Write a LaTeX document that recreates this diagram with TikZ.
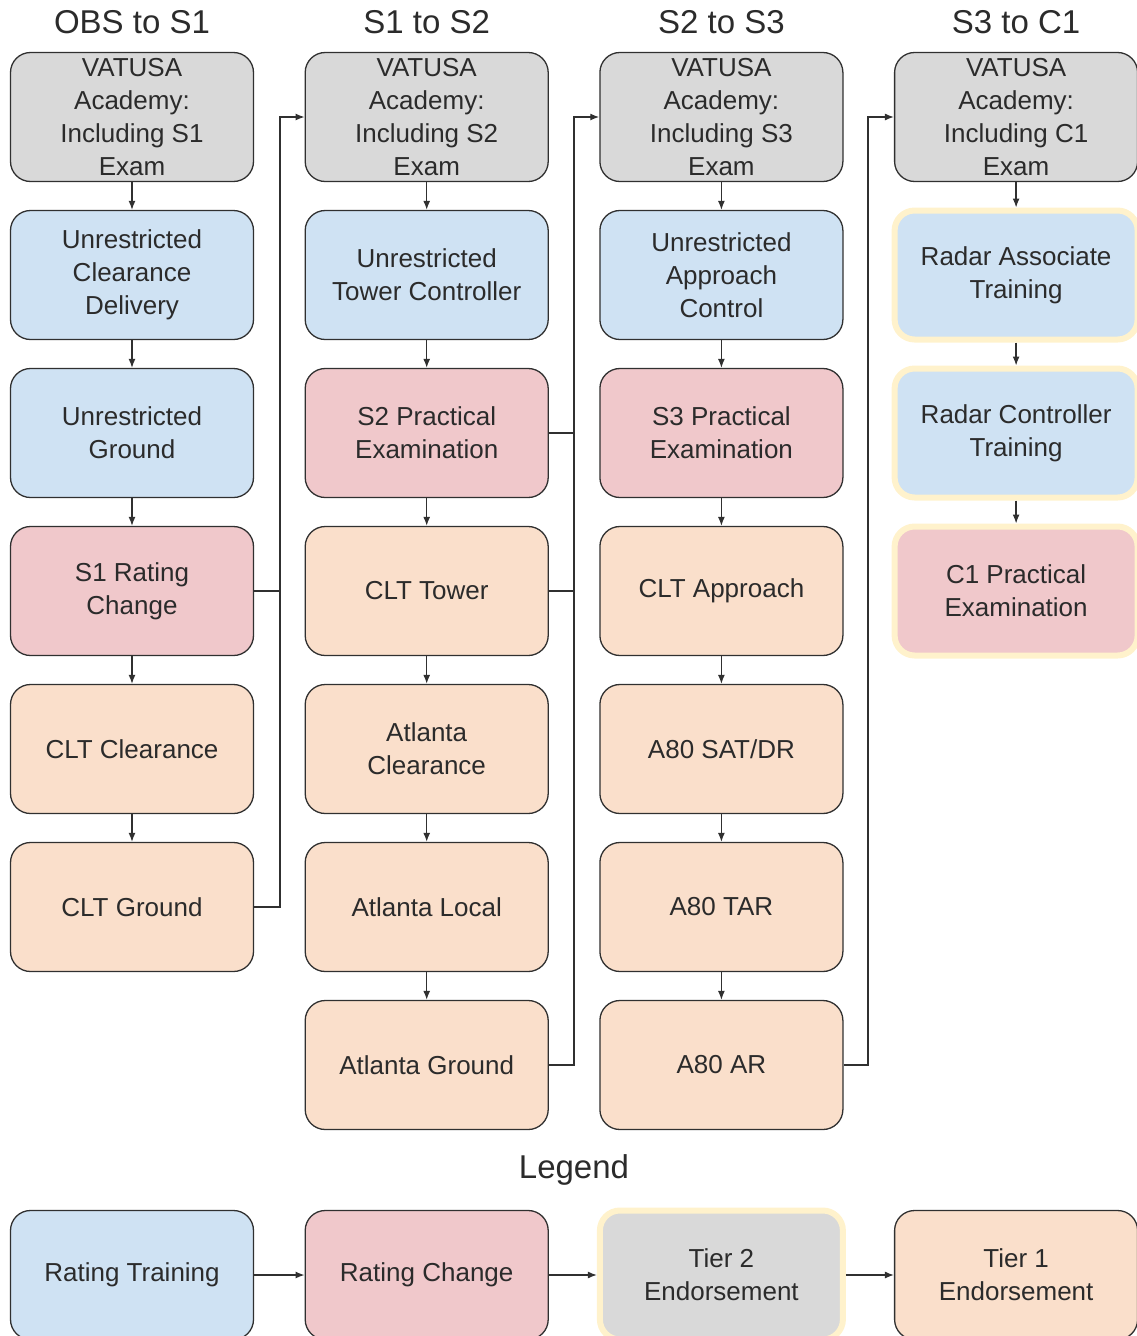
\documentclass[tikz,border=0pt]{standalone}
\usepackage{fontspec}
\setmainfont{Liberation Sans}
\usetikzlibrary{arrows.meta}

\definecolor{cgray}{HTML}{D9D9D9}
\definecolor{cblue}{HTML}{CFE2F3}
\definecolor{cred}{HTML}{F0C8CB}
\definecolor{corange}{HTML}{FADFCB}
\definecolor{cyellow}{HTML}{FFF2CC}
\definecolor{cline}{HTML}{303030}
\definecolor{ctext}{HTML}{2B2B2B}

\tikzset{
  box/.style={draw=cline, line width=1.3pt, rounded corners=20pt,
    minimum width=243pt, minimum height=129pt, inner sep=0pt,
    align=center, text=ctext, font=\fontsize{26}{33}\selectfont},
  hl/.style={draw=cyellow, line width=6pt},
  title/.style={text=ctext, font=\fontsize{33}{40}\selectfont},
}

\begin{document}
\begin{tikzpicture}[x=1pt,y=-1pt,line width=1.3pt,color=cline,
  >={Latex[length=9pt,width=7pt]}]

  \newcommand\X{294.7};
  \newcommand\Y{158};

  \useasboundingbox (0,0) rectangle (1136,1336);

  \node[title] (t1) at (132,22) {OBS to S1};
  \node[title] (t2) at (132+\X,22) {S1 to S2};
  \node[title] (t3) at (132+2*\X,22) {S2 to S3};
  \node[title] (t4) at (132+3*\X,22) {S3 to C1};

  %% OBS to S1
  \node[box,fill=cgray] (v1) at (132,117) {VATUSA\\Academy:\\Including S1\\Exam};
  \node[box,fill=cblue] (del1) at (132,117+\Y) {Unrestricted\\Clearance\\Delivery};
  \node[box,fill=cblue] (gnd1) at (132,117+2*\Y) {Unrestricted\\Ground};
  \node[box,fill=cred] (rc1) at (132,117+3*\Y) {S1 Rating\\Change};
  \node[box,fill=corange] (clr1) at (132,117+4*\Y) {CLT Clearance};
  \node[box,fill=corange] (cltg1) at (132,117+5*\Y) {CLT Ground};

  %% S1 to S2
  \node[box,fill=cgray] (v2) at (132+\X,117) {VATUSA\\Academy:\\Including S2\\Exam};
  \node[box,fill=cblue] (twr2) at (132+\X,117+\Y) {Unrestricted\\Tower Controller};
  \node[box,fill=cred] (ex2) at (132+\X,117+2*\Y) {S2 Practical\\Examination};
  \node[box,fill=corange] (cltt2) at (132+\X,117+3*\Y) {CLT Tower};
  \node[box,fill=corange] (atlc2) at (132+\X,117+4*\Y) {Atlanta\\Clearance};
  \node[box,fill=corange] (atll2) at (132+\X,117+5*\Y) {Atlanta Local};
  \node[box,fill=corange] (atlg2) at (132+\X,117+6*\Y) {Atlanta Ground};

  %% S2 to S3
  \node[box,fill=cgray] (v3) at (132+2*\X,117) {VATUSA\\Academy:\\Including S3\\Exam};
  \node[box,fill=cblue] (app3) at (132+2*\X,117+\Y) {Unrestricted\\Approach\\Control};
  \node[box,fill=cred] (ex3) at (132+2*\X,117+2*\Y) {S3 Practical\\Examination};
  \node[box,fill=corange] (clta3) at (132+2*\X,117+3*\Y) {CLT Approach};
  \node[box,fill=corange] (sat3) at (132+2*\X,117+4*\Y) {A80 SAT/DR};
  \node[box,fill=corange] (tar3) at (132+2*\X,117+5*\Y) {A80 TAR};
  \node[box,fill=corange] (ar3) at (132+2*\X,117+6*\Y) {A80 AR};

  %% S3 to C1
  \node[box,fill=cgray] (v4) at (132+3*\X,117) {VATUSA\\Academy:\\Including C1\\Exam};
  \node[box,hl,fill=cblue] (ra4) at (132+3*\X,117+\Y) {Radar Associate\\Training};
  \node[box,hl,fill=cblue] (rct4) at (132+3*\X,117+2*\Y) {Radar Controller\\Training};
  \node[box,hl,fill=cred] (ex4) at (132+3*\X,117+3*\Y) {C1 Practical\\Examination};

  \foreach \a/\b in {v1/del1,del1/gnd1,gnd1/rc1,rc1/clr1,clr1/cltg1,
    v2/twr2,twr2/ex2,ex2/cltt2,cltt2/atlc2,atlc2/atll2,atll2/atlg2,
    v3/app3,app3/ex3,ex3/clta3,clta3/sat3,sat3/tar3,tar3/ar3,
    v4/ra4,ra4/rct4,rct4/ex4}
    \draw[->] (\a) -- (\b);

  \coordinate (j1) at (280,0);
  \coordinate (j2) at (574,0);
  \coordinate (j3) at (868,0);

  \draw[->] (cltg1.east) -- (cltg1.east -| j1) |- (v2.west); %% 1 -> 2
  \draw (rc1.east) -- (rc1.east -| j1);
  \draw[->] (atlg2.east) -- (atlg2.east -| j2) |- (v3.west); %% 2 -> 3
  \draw (ex2.east) -- (ex2.east -| j2);
  \draw (cltt2.east) -- (cltt2.east -| j2);
  \draw[->] (ar3.east) -- (ar3.east -| j3) |- (v4.west); %% 3 -> 4

  %% legend
  \node[title] (leg) at (574,1170) {Legend};
  \node[box,fill=cblue] (lrt) at (132,1275) {Rating Training};
  \node[box,fill=cred] (lrc) at (132+\X,1275) {Rating Change};
  \node[box,hl,fill=cgray] (lt2) at (132+2*\X,1275) {Tier 2\\Endorsement};
  \node[box,fill=corange] (lt1) at (132+3*\X,1275) {Tier 1\\Endorsement};

  \draw[->] (lrt) -- (lrc);
  \draw[->] (lrc) -- (lt2);
  \draw[->] (lt2) -- (lt1);

\end{tikzpicture}
\end{document}
